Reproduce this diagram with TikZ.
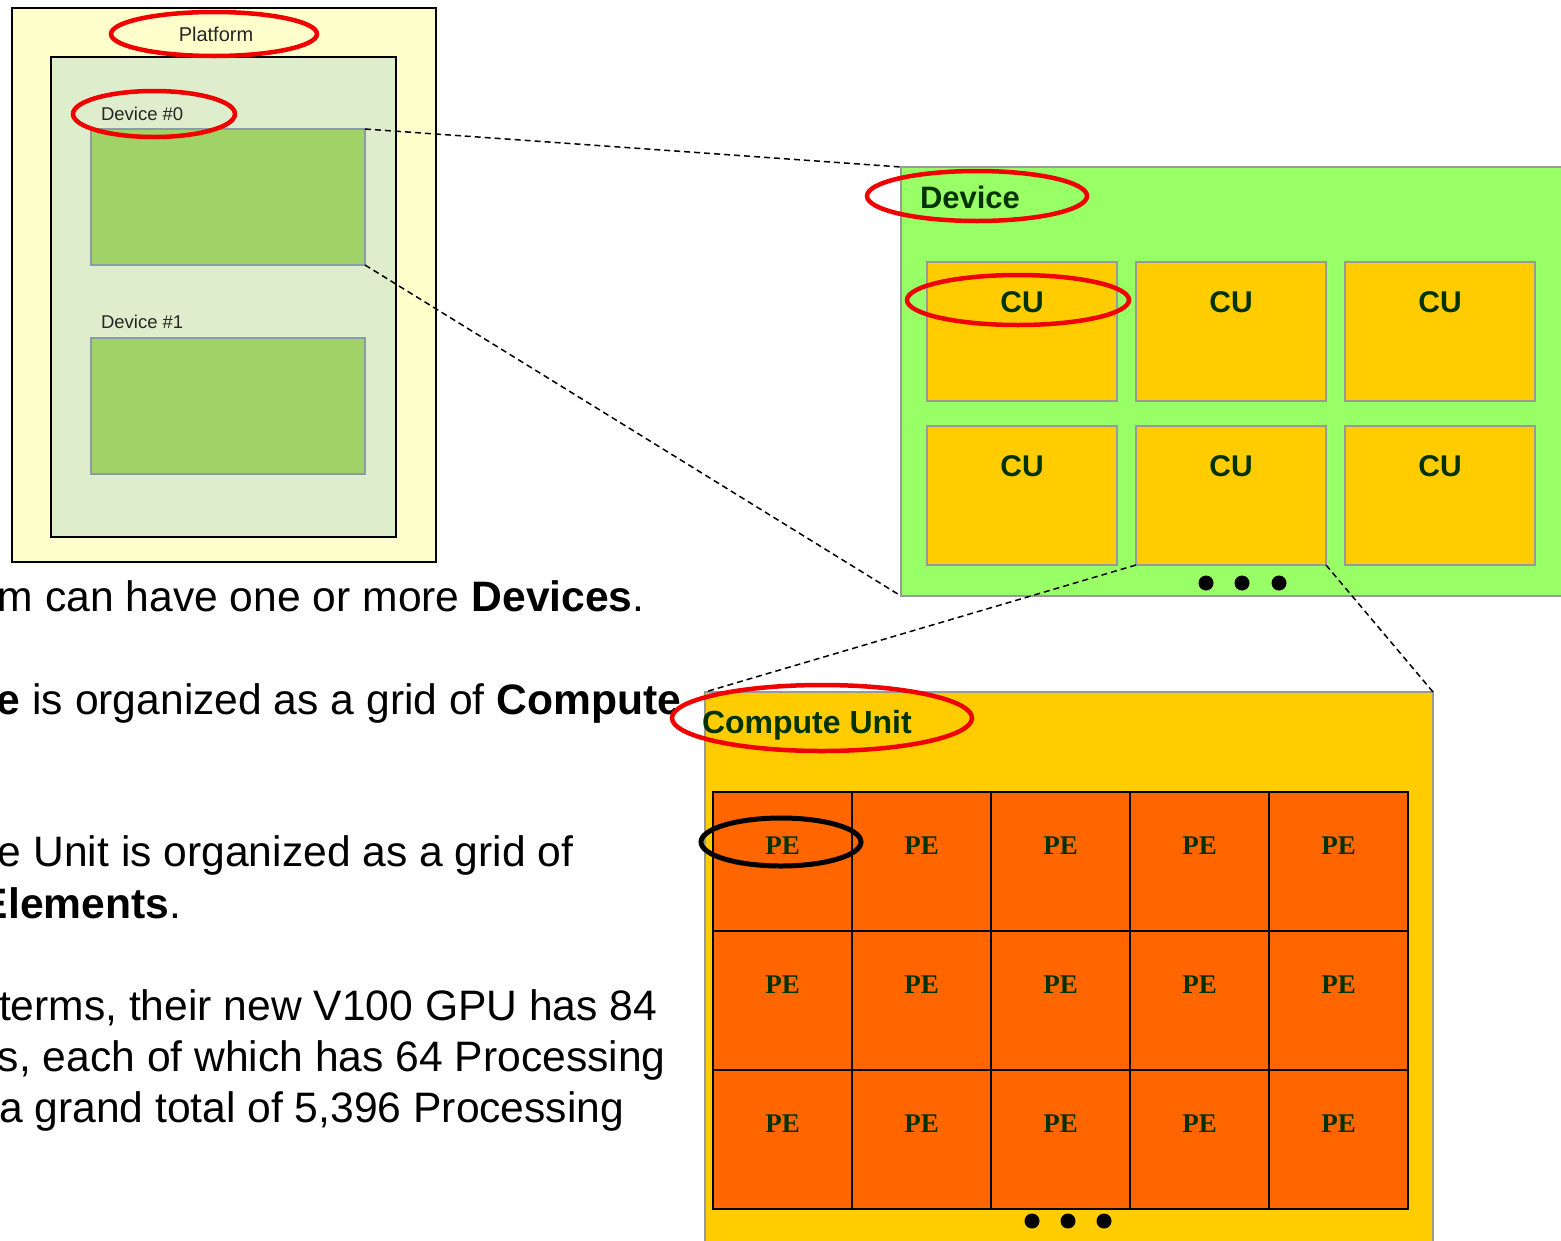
\documentclass[tikz,border=0pt]{standalone}
\usepackage{fontspec}
\setmainfont{Liberation Sans}
\newfontfamily\pefont{Liberation Serif}
\usetikzlibrary{positioning,shapes.geometric}
\definecolor{PlatYellow}{RGB}{255,255,204}
\definecolor{PlatGreen}{RGB}{222,237,203}
\definecolor{DevGreen}{RGB}{160,210,104}
\definecolor{DevEdge}{RGB}{138,156,168}
\definecolor{BigGreen}{RGB}{153,255,102}
\definecolor{CUYellow}{RGB}{255,204,0}
\definecolor{PEOrange}{RGB}{255,102,0}
\definecolor{LabelGreen}{RGB}{0,51,0}
\definecolor{BoxGray}{RGB}{153,153,153}
\definecolor{RingRed}{RGB}{240,0,0}

\begin{document}
\begin{tikzpicture}[
    x=1pt, y=-1pt,
    every node/.style={inner sep=0pt, outer sep=0pt},
    platbox/.style={
        draw,
        line width=2pt,
        anchor=north west
    },
    devbox/.style={
        draw=DevEdge,
        line width=2pt,
        fill=DevGreen,
        anchor=north west,
        minimum width=274pt,
        minimum height=136pt
    },
    cubox/.style={
        draw=BoxGray,
        line width=1.5pt,
        fill=CUYellow,
        anchor=north west,
        minimum width=190pt,
        text height=50pt,
        text depth=89pt,
        text=LabelGreen,
        font=\fontsize{30}{30}\selectfont\bfseries
    },
    pecell/.style={
        draw,
        line width=2.5pt,
        fill=PEOrange,
        anchor=north west,
        minimum width=139pt,
        text height=62pt,
        text depth=77pt,
        text=LabelGreen,
        font=\pefont\fontsize{27}{27}\selectfont\bfseries
    },
    redring/.style={ellipse, draw=RingRed, line width=4.5pt},
    blackring/.style={ellipse, draw, line width=5pt},
    zoomline/.style={draw, line width=1.5pt, dash pattern=on 6pt off 4pt},
    dot/.style={circle, fill, minimum size=15pt},
    bodytext/.style={anchor=base west, font=\fontsize{42.6}{50}\selectfont}
]
\useasboundingbox (0,0) rectangle (1561,1240);
\clip (0,0) rectangle (1561,1240);

% platform
\node[platbox, fill=PlatYellow, minimum width=424pt, minimum height=554pt] (platform) at (12,8) {};
\node[platbox, fill=PlatGreen, minimum width=345pt, minimum height=480pt] (host) at (51,57) {};
\node[font=\fontsize{20}{20}\selectfont, text=black!85] (platlbl) at (216,34) {Platform};

\node[anchor=base west, font=\fontsize{18.5}{20}\selectfont, text=black!85] (dev0lbl) at (101,120) {Device \#0};
\node[devbox] (dev0) at (91,129) {};
\node[anchor=base west, font=\fontsize{18.5}{20}\selectfont, text=black!85] (dev1lbl) at (101,328) {Device \#1};
\node[devbox] (dev1) at (91,338) {};

% device
\node[platbox, draw=BoxGray, line width=1.5pt, fill=BigGreen, minimum width=680pt, minimum height=429pt] (device) at (901,167) {};
\node[anchor=base west, font=\fontsize{31}{31}\selectfont\bfseries, text=LabelGreen] (devlbl) at (920,208) {Device};

\node[cubox] (cu1) at (927,262) {CU};
\node[cubox] (cu2) at (1136,262) {CU};
\node[cubox] (cu3) at (1345,262) {CU};
\node[cubox] (cu4) at (927,426) {CU};
\node[cubox] (cu5) at (1136,426) {CU};
\node[cubox] (cu6) at (1345,426) {CU};

\node[dot] (cudot1) at (1206,583) {};
\node[dot] (cudot2) at (1242,583) {};
\node[dot] (cudot3) at (1279,583) {};

% compute unit
\node[platbox, draw=BoxGray, line width=1.5pt, fill=CUYellow, minimum width=728pt, minimum height=600pt] (cunit) at (705,692) {};
\node[anchor=base west, font=\fontsize{32}{32}\selectfont\bfseries, text=LabelGreen] (cunitlbl) at (702,733) {Compute Unit};

\node[pecell] (pe11) at (713,792) {PE};
\node[pecell] (pe12) at (852,792) {PE};
\node[pecell] (pe13) at (991,792) {PE};
\node[pecell] (pe14) at (1130,792) {PE};
\node[pecell] (pe15) at (1269,792) {PE};
\node[pecell] (pe21) at (713,931) {PE};
\node[pecell] (pe22) at (852,931) {PE};
\node[pecell] (pe23) at (991,931) {PE};
\node[pecell] (pe24) at (1130,931) {PE};
\node[pecell] (pe25) at (1269,931) {PE};
\node[pecell] (pe31) at (713,1070) {PE};
\node[pecell] (pe32) at (852,1070) {PE};
\node[pecell] (pe33) at (991,1070) {PE};
\node[pecell] (pe34) at (1130,1070) {PE};
\node[pecell] (pe35) at (1269,1070) {PE};

\node[dot] (pedot1) at (1032,1221) {};
\node[dot] (pedot2) at (1068,1221) {};
\node[dot] (pedot3) at (1104,1221) {};

% zoom lines
\draw[zoomline] (dev0.north east) -- (device.north west);
\draw[zoomline] (dev0.south east) -- (device.south west);
\draw[zoomline] (cu5.south west) -- (cunit.north west);
\draw[zoomline] (cu5.south east) -- (cunit.north east);

% text
\node[bodytext] (txt1) at (-2,611) {m can have one or more \textbf{Devices}.};
\node[bodytext] (txt2) at (-3,714) {\textbf{e} is organized as a grid of \textbf{Compute}};
\node[bodytext] (txt3) at (-2,866) {e Unit is organized as a grid of};
\node[bodytext] (txt4) at (-20,918) {\textbf{Elements}.};
\node[bodytext] (txt5) at (-1,1020) {terms, their new V100 GPU has 84};
\node[bodytext] (txt6) at (-2,1071) {s, each of which has 64 Processing};
\node[bodytext] (txt7) at (-1,1122) {a grand total of 5,396 Processing};

% rings
\node[redring, minimum width=206pt, minimum height=44pt] (ringplat) at (214,34) {};
\node[redring, minimum width=162pt, minimum height=46pt] (ringdev0) at (154,114) {};
\node[redring, minimum width=220pt, minimum height=50pt] (ringdev) at (977,196) {};
\node[redring, minimum width=222pt, minimum height=50pt] (ringcu) at (1018,300) {};
\node[redring, minimum width=300pt, minimum height=66pt] (ringcunit) at (822,718) {};
\node[blackring, minimum width=160pt, minimum height=48pt] (ringpe) at (781,842) {};

\end{tikzpicture}
\end{document}
